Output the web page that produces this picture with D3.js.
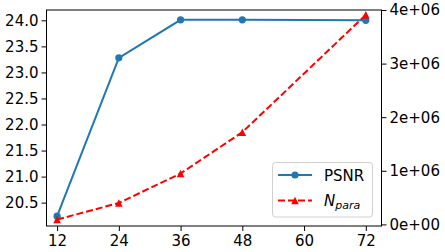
<!DOCTYPE html>
<html>
<head>
<meta charset="utf-8">
<script src="https://cdn.jsdelivr.net/npm/d3@7"></script>
<style>
  body { margin: 0; background: #fff; }
  text { font-family: "DejaVu Sans", sans-serif; }
</style>
</head>
<body>
<svg id="chart"></svg>
<script>
// Data
const channels = [12, 24, 36, 48, 72];
const psnr = [20.24, 23.28, 24.01, 24.01, 24.0];
const nPara = [0.09e6, 0.40e6, 0.95e6, 1.72e6, 3.91e6];
const xTicks = [12, 24, 36, 48, 60, 72];
const psnrTicks = [20.5, 21.0, 21.5, 22.0, 22.5, 23.0, 23.5, 24.0];
const nParaTicks = [0, 1e6, 2e6, 3e6, 4e6];

const width = 445;
const height = 252;
const plot = { left: 46.5, right: 381.5, top: 10, bottom: 226 };

const svg = d3.select("#chart")
    .attr("width", width)
    .attr("height", height);

// Scales
const x = d3.scaleLinear().domain([9.94, 75.05]).range([plot.left, plot.right]);

const [pMin, pMax] = d3.extent(psnr);
const pPad = (pMax - pMin) * 0.05;
const yLeft = d3.scaleLinear().domain([pMin - pPad, pMax + pPad]).range([plot.bottom, plot.top]);
const yRight = d3.scaleLinear().domain([-0.03e6, 4.0e6]).range([plot.bottom, plot.top]);

// Axes
const fontSize = 15;

const xAxis = svg.append("g")
    .attr("transform", `translate(0,${plot.bottom})`)
    .call(d3.axisBottom(x).tickValues(xTicks).tickSize(5).tickPadding(4).tickFormat(d3.format("d")));

const leftAxis = svg.append("g")
    .attr("transform", `translate(${plot.left},0)`)
    .call(d3.axisLeft(yLeft).tickValues(psnrTicks).tickSize(5).tickPadding(3).tickFormat(d3.format(".1f")));

const rightAxis = svg.append("g")
    .attr("transform", `translate(${plot.right},0)`)
    .call(d3.axisRight(yRight).tickValues(nParaTicks).tickSize(5).tickPadding(3)
        .tickFormat(d => d === 0 ? "0e+00" : `${d / 1e6}e+06`));

[xAxis, leftAxis, rightAxis].forEach(g => {
    g.select(".domain").remove();
    g.selectAll(".tick line").attr("stroke", "#000").attr("stroke-width", 1);
    g.selectAll(".tick text").attr("fill", "#000").style("font-size", fontSize + "px")
        .style("font-family", "'DejaVu Sans', sans-serif");
});

// Frame
svg.append("rect")
    .attr("x", plot.left)
    .attr("y", plot.top)
    .attr("width", plot.right - plot.left)
    .attr("height", plot.bottom - plot.top)
    .attr("fill", "none")
    .attr("stroke", "#000")
    .attr("stroke-width", 1);

// PSNR line
const blue = "#1f77b4";
const red = "#ff0000";

const psnrLine = d3.line()
    .x((d, i) => x(channels[i]))
    .y(d => yLeft(d));

svg.append("path")
    .datum(psnr)
    .attr("d", psnrLine)
    .attr("fill", "none")
    .attr("stroke", blue)
    .attr("stroke-width", 2);

svg.selectAll(".psnr-dot")
    .data(psnr)
    .enter()
    .append("circle")
    .attr("class", "psnr-dot")
    .attr("cx", (d, i) => x(channels[i]))
    .attr("cy", d => yLeft(d))
    .attr("r", 3.6)
    .attr("fill", blue);

// N_para line
const paraLine = d3.line()
    .x((d, i) => x(channels[i]))
    .y(d => yRight(d));

svg.append("path")
    .datum(nPara)
    .attr("d", paraLine)
    .attr("fill", "none")
    .attr("stroke", red)
    .attr("stroke-width", 2)
    .attr("stroke-dasharray", "7,3");

function triangle(r) {
    return `M0,${-r}L${-r},${r}L${r},${r}Z`;
}

svg.selectAll(".para-dot")
    .data(nPara)
    .enter()
    .append("path")
    .attr("class", "para-dot")
    .attr("d", triangle(3.8))
    .attr("transform", (d, i) => `translate(${x(channels[i])},${yRight(d)})`)
    .attr("fill", red);

// Legend
const legend = svg.append("g").attr("transform", "translate(272.5,162.5)");

legend.append("rect")
    .attr("width", 100)
    .attr("height", 54.5)
    .attr("rx", 3)
    .attr("fill", "#fff")
    .attr("fill-opacity", 0.8)
    .attr("stroke", "#d0d0d0")
    .attr("stroke-width", 1);

legend.append("line")
    .attr("x1", 5.5).attr("x2", 39.5)
    .attr("y1", 12.5).attr("y2", 12.5)
    .attr("stroke", blue).attr("stroke-width", 2);
legend.append("circle")
    .attr("cx", 22.5).attr("cy", 12.5).attr("r", 3.6).attr("fill", blue);
legend.append("text")
    .attr("x", 51.5).attr("y", 18)
    .style("font-size", fontSize + "px")
    .text("PSNR");

legend.append("line")
    .attr("x1", 5.5).attr("x2", 39.5)
    .attr("y1", 38).attr("y2", 38)
    .attr("stroke", red).attr("stroke-width", 2)
    .attr("stroke-dasharray", "7,3");
legend.append("path")
    .attr("d", triangle(3.8))
    .attr("transform", "translate(22.5,38)")
    .attr("fill", red);
const nLabel = legend.append("text")
    .attr("x", 51.5).attr("y", 43.5)
    .style("font-size", fontSize + "px")
    .style("font-style", "italic");
nLabel.append("tspan").text("N");
nLabel.append("tspan")
    .attr("dy", 3)
    .style("font-size", "11px")
    .text("para");
</script>
</body>
</html>
